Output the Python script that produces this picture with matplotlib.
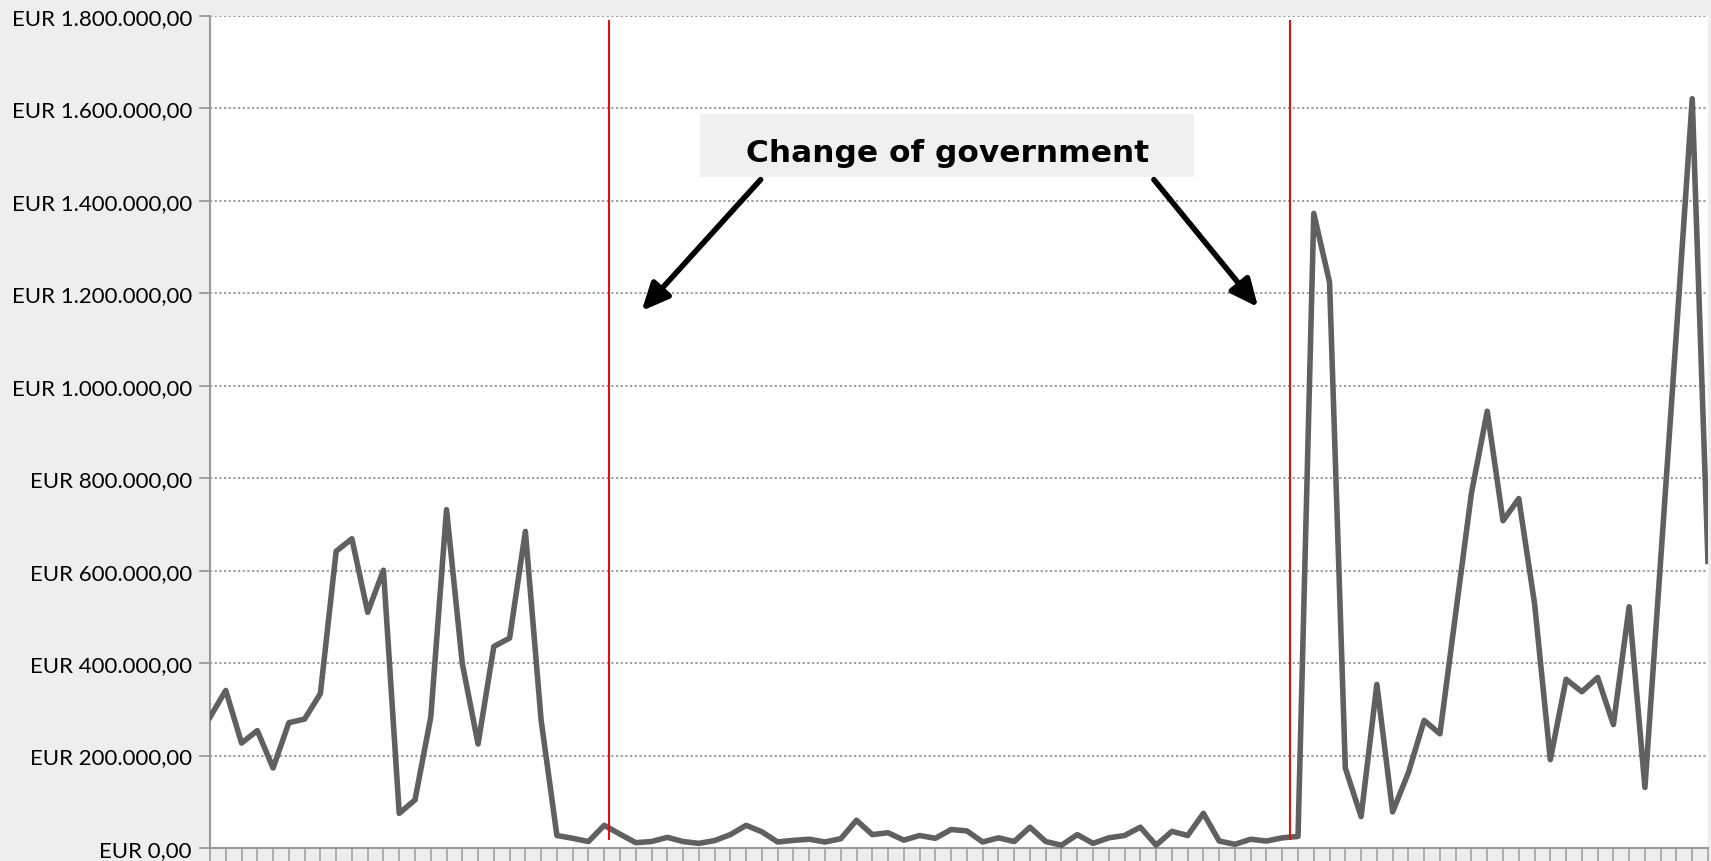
import matplotlib
matplotlib.use("Agg")
import matplotlib.pyplot as plt
import matplotlib.patheffects as pe
from matplotlib.patches import Rectangle

# monthly amounts, EUR thousands (one point per period)
periods = list(range(96))
amounts_k = [
    283, 341, 227, 254, 173, 271, 279, 334, 642, 669,
    510, 601, 75, 104, 283, 732, 399, 225, 436, 454,
    685, 276, 27, 21, 14, 49, 30, 11.5, 14, 23,
    14, 10, 16, 29, 49, 35, 13, 16.5, 19, 13,
    20, 60, 29, 33, 17, 27, 21, 40, 37, 13,
    22, 14, 45, 14, 6, 29, 10, 22, 27, 45,
    6, 36, 27, 75, 15, 8, 19, 15, 22, 25,
    1373, 1224, 173, 68, 354, 78, 163, 276, 247, 508,
    768, 945, 708, 756, 529, 191, 365, 338, 369, 267,
    522, 131, 624, 1117, 1621, 620,
]
amounts = [v * 1000 for v in amounts_k]

y_ticks = [i * 200000 for i in range(10)]
y_labels = ["EUR " + f"{v:,.2f}".replace(",", "X").replace(".", ",").replace("X", ".")
            for v in y_ticks]

# change of government markers (between periods)
gov_changes = [25.3, 68.5]
note_text = "Change of government"

plt.rcParams['font.family'] = ['Lato', 'DejaVu Sans']

fig = plt.figure(figsize=(17.11, 8.62), dpi=100, facecolor='#EEEEEE')
ax = fig.add_axes([210 / 1711, 13 / 862, 1498 / 1711, 832 / 862])
ax.set_facecolor('white')

ax.plot(periods, amounts, color='#606060', lw=4.0, zorder=3)

for xc in gov_changes:
    ax.plot([xc, xc], [19500, 1790000], color='#E01010', lw=1.5, zorder=4)

ax.set_xlim(0, 95)
ax.set_ylim(0, 1800000)

ax.set_yticks(y_ticks)
ax.set_yticklabels(y_labels, fontsize=16, color='black')
ax.set_xticks(periods)
ax.set_xticklabels([])
ax.tick_params(axis='y', length=8, width=1.1, color='#8c8c8c', pad=5)
ax.tick_params(axis='x', length=9.5, width=1.1, color='#9a9a9a')

ax.grid(axis='y', color='#8a8a8a', linestyle=(0, (1.3, 1.5)), lw=1.2, zorder=1)
for s in ['top', 'right']:
    ax.spines[s].set_visible(False)
for s in ['left', 'bottom']:
    ax.spines[s].set_color('#9a9a9a')
    ax.spines[s].set_linewidth(1.5)

# note box with arrows
ax.add_patch(Rectangle((31.1, 1451000), 31.3, 138000, facecolor='#F0F0F0',
                       edgecolor='none', zorder=5))
ax.text(46.76, 1487000, note_text, ha='center', va='baseline', fontsize=22.5,
        fontweight='bold', family=['DejaVu Sans'], color='black', zorder=6)

shadow = [pe.withSimplePatchShadow(offset=(1.5, -1.5), shadow_rgbFace='#8a8a8a', alpha=0.9)]
arrows = [((34.92, 1446000), (27.37, 1162000)), ((59.86, 1446000), (66.47, 1170000))]
for start, tip in arrows:
    ax.annotate('', xy=tip, xytext=start,
                arrowprops=dict(arrowstyle='-|>,head_length=1.1,head_width=0.5',
                                mutation_scale=15, lw=4, color='black',
                                shrinkA=0, shrinkB=0, path_effects=shadow),
                zorder=6)

fig.savefig('out.png', dpi=100, facecolor=fig.get_facecolor())
